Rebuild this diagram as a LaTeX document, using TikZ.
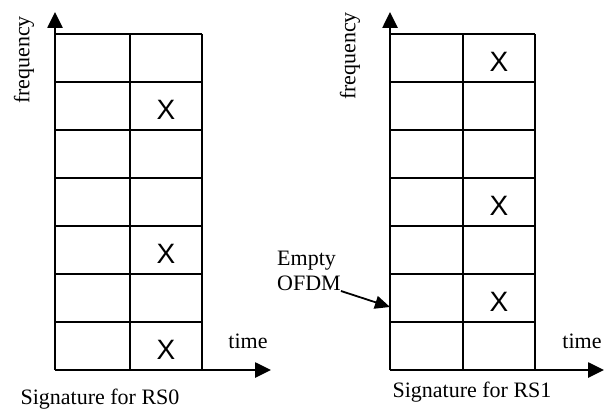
\documentclass[tikz,border=0pt]{standalone}
\usepackage{fontspec}
\setmainfont{Liberation Serif}
\newfontfamily\marksf{Liberation Sans}
\usetikzlibrary{arrows.meta}

\tikzset{
  axis/.style={line width=2.6pt,-{Triangle[length=16pt,width=15pt]}},
  gridline/.style={line width=1.6pt},
  pointer/.style={line width=1.8pt,-{Triangle[length=15pt,width=13pt]}},
  lbl/.style={font=\fontsize{22}{25}\selectfont,inner sep=0pt},
  xmark/.style={font=\marksf\fontsize{28}{30}\selectfont,inner sep=0pt},
}

\begin{document}
\begin{tikzpicture}[x=1pt,y=-1pt]
            \useasboundingbox (0,0) rectangle (604,414);

            % RS0 grid
            \foreach \y in {34,82,...,322} {
                \draw[gridline] (55,\y) -- (202,\y);
            }
            \foreach \x in {130,202} {
                \draw[gridline] (\x,34) -- (\x,370);
            }
            \draw[axis] (55,370) -- (55,12);
            \draw[axis] (55,370) -- (271,370);
            \foreach \r in {1,4,6} {
                \node[xmark] (xa\r) at (166,62+48*\r) {X};
            }
            \node[lbl,rotate=90] (freqa) at (24,60) {frequency};
            \node[lbl] (timea) at (248,341) {time};
            \node[lbl] (siga) at (100,399) {Signature for RS0};

            % RS1 grid
            \foreach \y in {34,82,...,322} {
                \draw[gridline] (390,\y) -- (535,\y);
            }
            \foreach \x in {463,535} {
                \draw[gridline] (\x,34) -- (\x,370);
            }
            \draw[axis] (390,370) -- (604,370);
            \draw[axis] (390,370) -- (390,12);
            \foreach \r in {0,3,5} {
                \node[xmark] (xb\r) at (499,62+48*\r) {X};
            }
            \node[lbl,rotate=90] (freqb) at (350,56) {frequency};
            \node[lbl] (timeb) at (582,341) {time};
            \node[lbl] (sigb) at (472,392) {Signature for RS1};

            % empty OFDM symbol
            \node[lbl,align=left,anchor=west] (empty) at (277,271) {Empty\\OFDM};
            \coordinate (slot) at (390,307);
            \draw[pointer] (empty.south east) -- (slot);
        \end{tikzpicture}
\end{document}
